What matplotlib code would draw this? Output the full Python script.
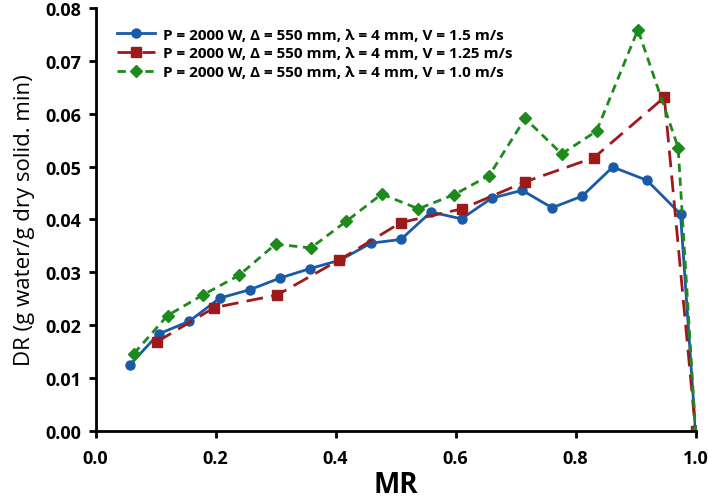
import matplotlib
matplotlib.use("Agg")
import matplotlib.pyplot as plt

# Data
mr_v15 = [0.0575, 0.105, 0.156, 0.207, 0.2575, 0.3075, 0.358, 0.408, 0.459, 0.509,
          0.559, 0.610, 0.660, 0.711, 0.761, 0.811, 0.862, 0.919, 0.975, 1.0]
dr_v15 = [0.0125, 0.0183, 0.0207, 0.0251, 0.0267, 0.0289, 0.0307, 0.0323, 0.0355, 0.0362,
          0.0414, 0.0401, 0.0440, 0.0455, 0.0422, 0.0444, 0.0499, 0.0474, 0.0410, 0.0]

mr_v125 = [0.102, 0.198, 0.303, 0.406, 0.509, 0.611, 0.716, 0.831, 0.948, 1.0]
dr_v125 = [0.0168, 0.0233, 0.0257, 0.0323, 0.0394, 0.0420, 0.0471, 0.0517, 0.0631, 0.0]

mr_v10 = [0.064, 0.120, 0.179, 0.239, 0.300, 0.359, 0.4175, 0.477, 0.538, 0.598,
          0.656, 0.716, 0.777, 0.835, 0.904, 0.971, 1.0]
dr_v10 = [0.0146, 0.0218, 0.0257, 0.0294, 0.0353, 0.0346, 0.0396, 0.0448, 0.0420, 0.0447,
          0.0483, 0.0591, 0.0524, 0.0567, 0.0759, 0.0536, 0.0]

labels = ["P = 2000 W, \u0394 = 550 mm, \u03bb = 4 mm, V = 1.5 m/s",
          "P = 2000 W, \u0394 = 550 mm, \u03bb = 4 mm, V = 1.25 m/s",
          "P = 2000 W, \u0394 = 550 mm, \u03bb = 4 mm, V = 1.0 m/s"]

xticks = [0.0, 0.2, 0.4, 0.6, 0.8, 1.0]
yticks = [0.00, 0.01, 0.02, 0.03, 0.04, 0.05, 0.06, 0.07, 0.08]

plt.rcParams['font.family'] = ['Open Sans', 'DejaVu Sans']

fig = plt.figure(figsize=(7.09, 5.02), dpi=100)
ax = fig.add_axes([0.1347, 0.140, 0.8463, 0.842])

ax.plot(mr_v15, dr_v15, color='#1a5aa8', lw=2.0, ls='-', marker='o', ms=6.5, label=labels[0])
ax.plot(mr_v125, dr_v125, color='#9e1a1a', lw=2.0, ls=(0, (6, 3)), marker='s', ms=6.5, label=labels[1])
ax.plot(mr_v10, dr_v10, color='#1e8a1e', lw=2.0, ls=(0, (3, 2)), marker='D', ms=6, label=labels[2])

ax.set_xlim(0, 1.0)
ax.set_ylim(0, 0.08)
ax.set_xticks(xticks)
ax.set_xticklabels([f"{t:.1f}" for t in xticks])
ax.set_yticks(yticks)
ax.set_yticklabels([f"{t:.2f}" for t in yticks])

for s in ['top', 'right']:
    ax.spines[s].set_visible(False)
for s in ['left', 'bottom']:
    ax.spines[s].set_linewidth(2.0)
ax.tick_params(axis='both', direction='out', width=2.0, length=5, labelsize=13)
ax.tick_params(axis='x', pad=8)
ax.tick_params(axis='y', pad=5)
for lab in ax.get_xticklabels() + ax.get_yticklabels():
    lab.set_fontweight('bold')

ax.set_xlabel("MR", fontsize=20, fontweight='bold', labelpad=2)
ax.set_ylabel("DR (g water/g dry solid. min)", fontsize=16, labelpad=8)

leg = ax.legend(loc='upper left', bbox_to_anchor=(0.02, 0.975), frameon=False,
                prop={'size': 11, 'weight': 'bold'}, handlelength=2.5,
                handletextpad=0.5, labelspacing=0.3, borderaxespad=0.2)

fig.savefig("out.png", dpi=100)
